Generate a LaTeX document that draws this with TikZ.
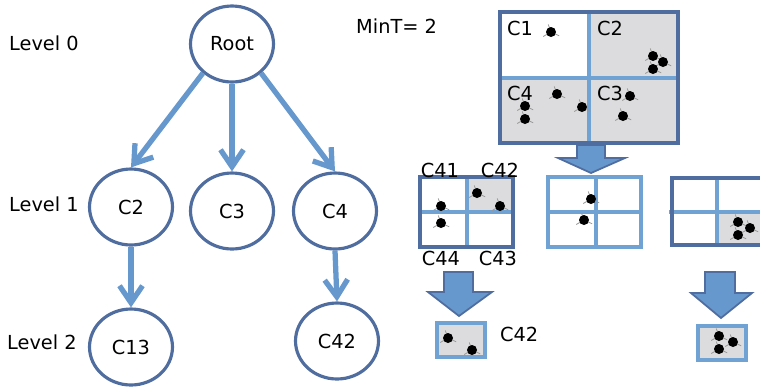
\documentclass[tikz,border=0pt]{standalone}
\usepackage{fontspec}
\setmainfont{DejaVu Sans}
\usetikzlibrary{shapes.geometric,arrows.meta}
\definecolor{edgeblue}{RGB}{79,109,158}
\definecolor{arrowblue}{RGB}{102,152,206}
\definecolor{gridblue}{RGB}{112,162,212}
\definecolor{cellgray}{RGB}{220,220,222}

\begin{document}
\begin{tikzpicture}[x=0.02cm,y=-0.02cm,
  font=\fontsize{11}{13}\selectfont,
  cluster/.style={ellipse,draw=edgeblue,line width=1.8pt,minimum width=1.66cm,minimum height=1.52cm,inner sep=0pt},
  link/.style={draw=arrowblue,line width=3pt,-{Straight Barb[length=3.4mm,width=4.6mm]}},
  outer/.style={draw=edgeblue,line width=2.1pt},
  inner/.style={draw=gridblue,line width=2pt},
  cell/.style={fill=cellgray},
  bigarrow/.style={fill=arrowblue,draw=edgeblue,line width=1pt,line join=miter},
  whisker/.style={draw=gray!80,line width=0.45pt}]
\useasboundingbox (0,0) rectangle (760,386);

% tree of clusters
\node[cluster] (root) at (232,44) {Root};
\node[cluster] (c2) at (131,207) {C2};
\node[cluster] (c3) at (232,211) {C3};
\node[cluster] (c4) at (335,211) {C4};
\node[cluster] (c13) at (131,347) {C13};
\node[cluster] (c42) at (337,341) {C42};
\draw[link] (root.-135) -- (c2.north);
\draw[link] (root.south) -- (c3.north);
\draw[link] (root.-45) -- (c4.north);
\draw[link] (c2.south) -- (c13.north);
\draw[link] (c4.south) -- (c42.north);

\node[anchor=west] (lvl0) at (3,43) {Level 0};
\node[anchor=west] (lvl1) at (3,204) {Level 1};
\node[anchor=west] (lvl2) at (1,342) {Level 2};
\node[anchor=west] (mint) at (350,26) {MinT= 2};

% level 0 grid
\fill[cell] (589,12) rectangle (678,143);
\fill[cell] (500,78) rectangle (589,143);
\draw[inner] (589,12) -- (589,143);
\draw[inner] (500,78) -- (678,78);
\draw[outer] (500,12) rectangle (678,143);
\node[anchor=west] (q1) at (501,28) {C1};
\node[anchor=west] (q2) at (591,28) {C2};
\node[anchor=west] (q4) at (501,93) {C4};
\node[anchor=west] (q3) at (591,93) {C3};

\draw[bigarrow] (577,145) -- (605,145) -- (605,158) -- (625,158) -- (591,173)
  -- (558,158) -- (577,158) -- cycle;

% level 1 grids
\fill[cell] (467,177) rectangle (513,212);
\draw[inner] (467,177) -- (467,247);
\draw[inner] (420,212) -- (513,212);
\draw[outer] (420,177) rectangle (513,247);
\node (q41) at (440,170) {C41};
\node (q42) at (500,170) {C42};
\node (q44) at (441,258) {C44};
\node (q43) at (498,258) {C43};

\draw[inner] (548,175) -- (548,247) -- (641,247) -- (641,177) -- (548,177);
\draw[inner] (596,175) -- (596,248);
\draw[inner] (546,212) -- (641,212);

\fill[cell] (717,212) rectangle (760,245);
\draw[inner] (669,212) -- (760,212);
\draw[inner] (717,178) -- (717,247);
\draw[outer] (760,178) -- (672,178) -- (672,245) -- (760,245);

% level 2 boxes
\draw[bigarrow] (444,272) -- (473,272) -- (473,292) -- (492,292) -- (459,316)
  -- (428,292) -- (444,292) -- cycle;
\draw[bigarrow] (705,272) -- (735,272) -- (735,293) -- (752,293) -- (721,318)
  -- (691,293) -- (705,293) -- cycle;
\draw[cell,draw=gridblue,line width=1.8pt] (437,323) rectangle (485,357);
\draw[cell,draw=gridblue,line width=1.8pt] (698,326) rectangle (746,360);
\node[anchor=west] (leaf) at (494,334) {C42};

% points
\foreach \x/\y in {551/32,653/56,663/62,653/69,557/94,525/106,525/119,582/107,630/96,623/116,
  477/193,500/206,441/206,441/223,591/199,584/220,738/222,750/228,738/235,
  448/338,472/350,719/336,733/342,719/349}{
  \draw[whisker] (\x,\y) -- ++(25:9);
  \draw[whisker] (\x,\y) -- ++(150:9);
  \draw[whisker] (\x,\y) -- ++(250:8);
  \fill (\x,\y) circle[radius=5];
}
\end{tikzpicture}
\end{document}
